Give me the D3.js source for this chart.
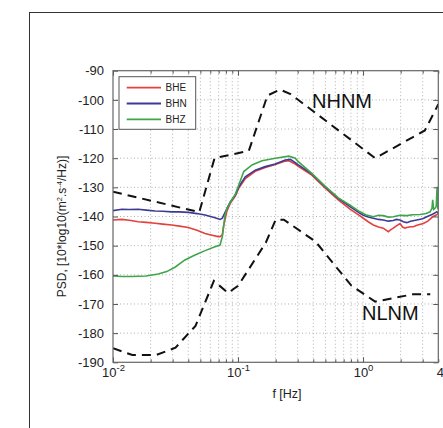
<!DOCTYPE html>
<html>
<head>
<meta charset="utf-8">
<script src="https://cdnjs.cloudflare.com/ajax/libs/d3/7.8.5/d3.min.js"></script>
<style>
  html, body { margin: 0; padding: 0; background: #fff; }
  svg { display: block; font-family: "Liberation Sans", Arial, sans-serif; }
</style>
</head>
<body>
<div class="chart"></div>
<script>
// tick values
var yTicks = [-190, -180, -170, -160, -150, -140, -130, -120, -110, -100, -90];
var xMajor = [0.01, 0.1, 1];
var xMajorExp = ['-2', '-1', '0'];
var xEndLabel = 4;

// Peterson noise models [f Hz, dB]
var nhnm = [[0.01, -131.5], [0.049, -138.5], [0.0649, -120], [0.122, -117.5], [0.172, -98.5],
    [0.217, -96.5], [0.263, -98], [1.25, -120], [3.125, -110.5], [4, -101.5]];
var nlnm = [[0.01, -185.2], [0.0143, -187.5], [0.0222, -187.5], [0.0316, -185], [0.0457, -177.5],
    [0.0641, -162.1], [0.0833, -166.2], [0.1, -163.8], [0.1667, -149], [0.2, -141.1],
    [0.2326, -141.1], [0.4167, -148.6], [0.8065, -163.7], [1.25, -169.2], [2.5, -166.7], [3.45, -166.7]];

// measured channels [f Hz, dB]
var bhe = [[0.01, -141.2], [0.0118, -141], [0.0135, -141.3], [0.0159, -141.8], [0.0185, -142], [0.0217, -142.3],
    [0.025, -142.6], [0.0295, -142.9], [0.034, -143.3], [0.04, -143.8], [0.047, -144.7], [0.0545, -145.8],
    [0.062, -146.4], [0.0695, -146.9], [0.0718, -146.9], [0.0749, -146.3], [0.0769, -143], [0.0817, -138],
    [0.0867, -135.5], [0.0951, -133], [0.1014, -130.3], [0.1144, -127], [0.1374, -124.5], [0.1652, -123.2],
    [0.1986, -122.2], [0.2388, -121], [0.2547, -120.9], [0.2871, -122], [0.3036, -122.8], [0.389, -125.8],
    [0.4966, -130.2], [0.634, -134.3], [0.787, -137.5], [0.946, -139.8], [1.005, -140.6], [1.1, -141.8],
    [1.208, -142.9], [1.33, -143.6], [1.452, -144], [1.52, -144.6], [1.592, -145.2], [1.66, -144.6],
    [1.746, -144], [1.85, -143.2], [1.977, -142.4], [2.07, -143.6], [2.168, -144], [2.238, -143.8],
    [2.4, -143.5], [2.523, -143.5], [2.7, -143], [3.035, -142.4], [3.3, -141.6], [3.61, -140.1],
    [3.85, -139.5], [4, -138.9]];
var bhn = [[0.01, -138], [0.0118, -137.5], [0.0135, -137.6], [0.0159, -137.5], [0.0185, -137.8], [0.0217, -138.1],
    [0.025, -138.2], [0.0295, -138.4], [0.034, -138.4], [0.04, -138.6], [0.047, -139], [0.0545, -139.5],
    [0.0655, -140.4], [0.0718, -141], [0.0749, -140.6], [0.0769, -139.5], [0.0817, -137.2], [0.0867, -135],
    [0.0951, -132.6], [0.1014, -129.8], [0.1144, -126.4], [0.1374, -124.1], [0.1652, -122.9], [0.1986, -122],
    [0.2388, -120.6], [0.2618, -120.4], [0.2871, -121.5], [0.3036, -122.3], [0.389, -125.4], [0.4966, -129.8],
    [0.634, -133.8], [0.787, -136.6], [0.946, -138.9], [1.005, -139.6], [1.1, -140.2], [1.208, -140.6],
    [1.33, -141], [1.452, -141.2], [1.592, -141.6], [1.746, -141.4], [1.85, -141], [1.977, -141.2],
    [2.1, -141.8], [2.238, -142.1], [2.4, -141.6], [2.69, -141.2], [3.0, -140.8], [3.236, -140.1],
    [3.6, -139.2], [3.89, -138.4], [4, -138.6]];
var bhz = [[0.01, -160.4], [0.0118, -160.6], [0.0141, -160.6], [0.0159, -160.5], [0.0184, -160.4], [0.023, -159.7],
    [0.0269, -158.9], [0.0313, -157.4], [0.0376, -154.9], [0.0453, -153.2], [0.0545, -151.7], [0.0655, -150.4],
    [0.0718, -149.8], [0.0749, -146.9], [0.0787, -139.5], [0.0817, -137.2], [0.0867, -135.2], [0.0951, -132.4],
    [0.1014, -129.2], [0.1112, -124.6], [0.1294, -122.3], [0.1556, -120.9], [0.1986, -120], [0.2547, -119.3],
    [0.2871, -120], [0.3036, -121.2], [0.389, -125.2], [0.4966, -129.6], [0.634, -133.6], [0.787, -136.1],
    [0.946, -138.4], [1.05, -139.4], [1.208, -140.1], [1.33, -139.6], [1.452, -139.7], [1.6, -140.2],
    [1.746, -140.1], [1.977, -139.6], [2.238, -139.7], [2.5, -139.4], [2.858, -139.3], [3.2, -139],
    [3.436, -138.4], [3.56, -137.2], [3.61, -134.3], [3.67, -137.6], [3.767, -137.2], [3.85, -136.5],
    [3.9, -131], [3.93, -129.8], [3.96, -137], [4, -137.5]];

var channels = [
    {name: 'BHE', color: '#e5403c', data: bhe},
    {name: 'BHN', color: '#3b3a95', data: bhn},
    {name: 'BHZ', color: '#3fa54a', data: bhz}
];

var svgWidth = 443;
var svgHeight = 428;
var plotLeft = 113, plotRight = 438.3, plotTop = 70.7, plotBottom = 362.3;

var svg = d3.select('.chart').append('svg')
    .attr('width', svgWidth)
    .attr('height', svgHeight);

// outer figure frame (runs off the right and bottom of the picture)
svg.append('rect')
    .attr('x', 29.5).attr('y', 12.5)
    .attr('width', 500).attr('height', 500)
    .attr('fill', 'none')
    .attr('stroke', '#333')
    .attr('stroke-width', 1);

var x = d3.scaleLog().domain([0.01, 4]).range([plotLeft, plotRight]);
var y = d3.scaleLinear().domain([-190, -90]).range([plotBottom, plotTop]);

// minor positions 2..9 of each decade
var xMinor = [];
[0.01, 0.1, 1].forEach(function(d) {
    for (var k = 2; k <= 9; k++) {
        var v = d * k;
        if (v < 4.001) xMinor.push(v);
    }
});

// dotted grid
var grid = svg.append('g').attr('stroke', '#b0b0b0').attr('stroke-width', 1).attr('stroke-dasharray', '1,2.5');
grid.selectAll('.gx')
    .data(xMinor.concat([0.1, 1]).filter(function(d) { return d < 3.99; }))
    .enter().append('line')
    .attr('x1', function(d) { return x(d); }).attr('x2', function(d) { return x(d); })
    .attr('y1', plotTop).attr('y2', plotBottom);
grid.selectAll('.gy')
    .data(yTicks.slice(1, -1))
    .enter().append('line')
    .attr('x1', plotLeft).attr('x2', plotRight)
    .attr('y1', function(d) { return y(d); }).attr('y2', function(d) { return y(d); });

svg.append('clipPath').attr('id', 'clip')
    .append('rect').attr('x', plotLeft).attr('y', plotTop)
    .attr('width', plotRight - plotLeft).attr('height', plotBottom - plotTop);
var plot = svg.append('g').attr('clip-path', 'url(#clip)');

var line = d3.line()
    .x(function(d) { return x(d[0]); })
    .y(function(d) { return y(d[1]); });

// noise models
[nhnm, nlnm].forEach(function(model) {
    plot.append('path')
        .datum(model)
        .attr('d', line)
        .attr('fill', 'none')
        .attr('stroke', '#111')
        .attr('stroke-width', 2)
        .attr('stroke-dasharray', '9,6');
});

plot.selectAll('.channel')
    .data(channels)
    .enter().append('path')
    .attr('class', 'channel')
    .attr('d', function(d) { return line(d.data); })
    .attr('fill', 'none')
    .attr('stroke', function(d) { return d.color; })
    .attr('stroke-width', 1.6);

// axes, ticks pointing inwards
var tickColor = '#555';
function styleAxis(g) {
    g.select('.domain').remove();
    g.selectAll('.tick line').attr('stroke', tickColor);
    g.selectAll('.tick text').attr('fill', '#222');
}

svg.append('g').attr('transform', 'translate(' + plotLeft + ',0)')
    .call(d3.axisLeft(y).tickValues(yTicks).tickSize(-5).tickPadding(9).tickFormat(function(d) { return String(d); }))
    .call(styleAxis)
    .selectAll('text').attr('font-size', 13).attr('font-family', '"Liberation Sans", Arial, sans-serif');
svg.append('g').attr('transform', 'translate(' + plotRight + ',0)')
    .call(d3.axisRight(y).tickValues(yTicks).tickSize(-5).tickFormat(''))
    .call(styleAxis);

svg.append('g').attr('transform', 'translate(0,' + plotBottom + ')')
    .call(d3.axisBottom(x).tickValues(xMinor).tickSize(-3).tickFormat(''))
    .call(styleAxis);
svg.append('g').attr('transform', 'translate(0,' + plotTop + ')')
    .call(d3.axisTop(x).tickValues(xMinor).tickSize(-3).tickFormat(''))
    .call(styleAxis);
svg.append('g').attr('transform', 'translate(0,' + plotTop + ')')
    .call(d3.axisTop(x).tickValues(xMajor).tickSize(-5).tickFormat(''))
    .call(styleAxis);

var xAxis = svg.append('g').attr('transform', 'translate(0,' + plotBottom + ')')
    .call(d3.axisBottom(x).tickValues(xMajor).tickSize(-5).tickFormat(''))
    .call(styleAxis);

// "10" with exponent as tick label
xAxis.selectAll('.tick').each(function(d, i) {
    var t = d3.select(this).append('text')
        .attr('y', 15)
        .attr('text-anchor', 'middle')
        .attr('fill', '#222')
        .attr('font-size', 13);
    t.append('tspan').text('10');
    t.append('tspan').attr('dy', -6.5).attr('font-size', 9.5).text(xMajorExp[i]);
});
svg.append('text')
    .attr('x', x(xEndLabel) + 2).attr('y', plotBottom + 15)
    .attr('text-anchor', 'middle')
    .attr('fill', '#222')
    .attr('font-size', 13)
    .text(xEndLabel);

// plot box
svg.append('rect')
    .attr('x', plotLeft).attr('y', plotTop)
    .attr('width', plotRight - plotLeft).attr('height', plotBottom - plotTop)
    .attr('fill', 'none')
    .attr('stroke', '#666')
    .attr('stroke-width', 1.2);

// axis titles
svg.append('text')
    .attr('x', 287).attr('y', 398)
    .attr('text-anchor', 'middle')
    .attr('font-size', 12.5)
    .attr('fill', '#222')
    .text('f [Hz]');

var yTitle = svg.append('text')
    .attr('transform', 'translate(65.5,226.5) rotate(-90)')
    .attr('text-anchor', 'middle')
    .attr('font-size', 12)
    .attr('fill', '#222');
yTitle.append('tspan').text('PSD, [10*log10(m');
yTitle.append('tspan').attr('dy', -4).attr('font-size', 7.5).text('2');
yTitle.append('tspan').attr('dy', 4).text('.s');
yTitle.append('tspan').attr('dy', -4).attr('font-size', 7.5).text('-4');
yTitle.append('tspan').attr('dy', 4).text('/Hz)]');

// model labels
svg.append('text').attr('x', 312).attr('y', 107.5)
    .attr('font-size', 20).attr('fill', '#111').text('NHNM');
svg.append('text').attr('x', 362).attr('y', 320)
    .attr('font-size', 20).attr('fill', '#111').text('NLNM');

// legend
var legend = svg.append('g');
legend.append('rect')
    .attr('x', 119).attr('y', 76.7)
    .attr('width', 76.7).attr('height', 52.6)
    .attr('fill', '#fff')
    .attr('stroke', '#555')
    .attr('stroke-width', 1);
var item = legend.selectAll('.item')
    .data(channels)
    .enter().append('g')
    .attr('transform', function(d, i) { return 'translate(0,' + (87.7 + i * 15.8) + ')'; });
item.append('line')
    .attr('x1', 126.7).attr('x2', 161)
    .attr('stroke', function(d) { return d.color; })
    .attr('stroke-width', 1.8);
item.append('text')
    .attr('x', 165.5).attr('y', 3.6)
    .attr('font-size', 10)
    .attr('fill', '#222')
    .text(function(d) { return d.name; });
</script>
</body>
</html>
